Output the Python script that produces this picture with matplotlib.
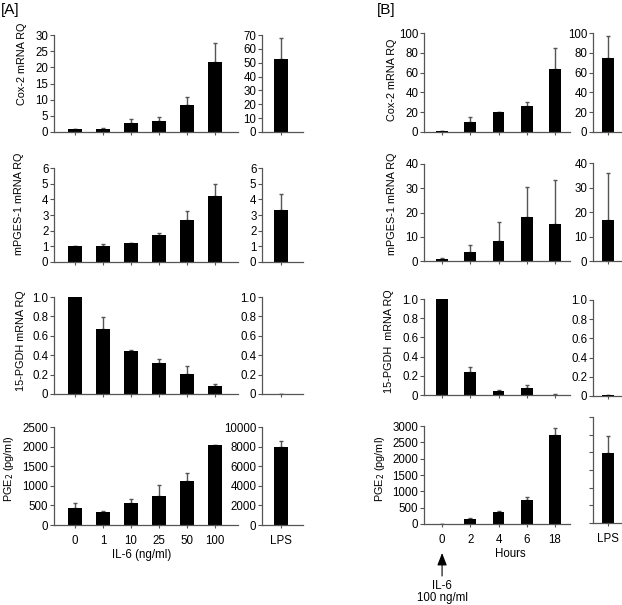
import numpy as np
import matplotlib
matplotlib.use('Agg')
from matplotlib import pyplot as plt

plt.rcParams['font.family'] = ['Liberation Sans', 'DejaVu Sans']
plt.rcParams['font.size'] = 8.3

# [A] IL-6 dose response
dose_labels = ['0', '1', '10', '25', '50', '100']
a_cox2 = [1.0, 1.0, 2.9, 3.4, 8.3, 21.6]
a_cox2_sd = [0.05, 0.2, 1.2, 1.1, 2.4, 6.0]
a_mpges = [1.0, 1.04, 1.2, 1.73, 2.68, 4.19]
a_mpges_sd = [0.0, 0.14, 0.03, 0.1, 0.6, 0.8]
a_pgdh = [1.0, 0.665, 0.444, 0.317, 0.205, 0.085]
a_pgdh_sd = [0.0, 0.13, 0.006, 0.04, 0.082, 0.014]
a_pge2 = [443, 332, 562, 732, 1123, 2034]
a_pge2_sd = [127, 25, 102, 281, 205, 17]
a_lps = [52.7, 3.32, 0.005, 8000]
a_lps_sd = [15.1, 0.99, 0.0, 612]

# [B] IL-6 100 ng/ml time course
hour_labels = ['0', '2', '4', '6', '18']
b_cox2 = [1.0, 9.8, 20.3, 26.1, 63.4]
b_cox2_sd = [0.2, 5.8, 0.3, 3.7, 21.3]
b_mpges = [1.0, 3.7, 8.1, 18.0, 15.3]
b_mpges_sd = [0.1, 2.8, 8.0, 12.4, 18.0]
b_pgdh = [1.0, 0.239, 0.038, 0.069, 0.004]
b_pgdh_sd = [0.0, 0.051, 0.014, 0.031, 0.002]
b_pge2 = [8, 164, 369, 727, 2725]
b_pge2_sd = [0, 10, 20, 113, 225]
b_lps = [74.9, 16.8, 0.008, 1980]
b_lps_sd = [22.0, 19.1, 0.002, 480]

a_ylabels = ['Cox-2 mRNA RQ', 'mPGES-1 mRNA RQ', '15-PGDH mRNA RQ', 'PGE$_2$ (pg/ml)']
b_ylabels = ['Cox-2 mRNA RQ', 'mPGES-1 mRNA RQ', '15-PGDH  mRNA RQ', 'PGE$_2$ (pg/ml)']

W, H = 622, 605
fig = plt.figure(figsize=(W/100, H/100), dpi=100)
grey = '#555555'

def px_axes(x0, x1, y0, y1):
    return fig.add_axes([x0/W, 1-y1/H, (x1-x0)/W, (y1-y0)/H])

def bars(ax, vals, sd, width, xlim, ylim, yticks, ylabs=True, xlabels=None):
    x = np.arange(len(vals))
    ax.bar(x, vals, width=width, color='black', zorder=2)
    ax.errorbar(x, vals, yerr=[np.zeros(len(vals)), sd], fmt='none',
                ecolor=grey, elinewidth=1, capsize=1.6, capthick=1, zorder=1)
    ax.set_xlim(xlim)
    ax.set_ylim(ylim)
    ax.set_yticks(yticks)
    if ylabs:
        ax.set_yticklabels(['%g' % t for t in yticks])
    else:
        ax.set_yticklabels([])
    ax.set_xticks(x)
    if xlabels is None:
        ax.set_xticklabels([])
    else:
        ax.set_xticklabels(xlabels)
    for s in ['top', 'right']:
        ax.spines[s].set_visible(False)
    for s in ['left', 'bottom']:
        ax.spines[s].set_color(grey)
        ax.spines[s].set_linewidth(0.9)
    ax.tick_params(axis='y', length=3, width=0.8, color=grey, pad=1)
    ax.tick_params(axis='x', length=2.5, width=0.8, color=grey, pad=5)

pgdh_ticks = [0, 0.2, 0.4, 0.6, 0.8, 1.0]

def pgdh_labels(ax):
    ax.set_yticklabels(['0', '0.2', '0.4', '0.6', '0.8', '1.0'])

# panel A
rows_a = [(35, 132), (168, 262), (297, 394), (427, 525)]
a_data = [(a_cox2, a_cox2_sd, 30, np.arange(0, 31, 5), 70, np.arange(0, 71, 10)),
          (a_mpges, a_mpges_sd, 6, np.arange(0, 7, 1), 6, np.arange(0, 7, 1)),
          (a_pgdh, a_pgdh_sd, 1.0, pgdh_ticks, 1.0, pgdh_ticks),
          (a_pge2, a_pge2_sd, 2500, np.arange(0, 2501, 500), 10000, np.arange(0, 10001, 2000))]
a_label_x = [22, 19, 21, 9]
a_label_y = [64, 204, 341, 469]
for i in range(4):
    y0, y1 = rows_a[i]
    vals, sd, top, ticks, ltop, lticks = a_data[i]
    ax = px_axes(54, 238, y0, y1)
    last = i == 3
    bars(ax, vals, sd, 0.5, (-0.75, 5.82), (0, top), ticks,
         xlabels=dose_labels if last else None)
    ax2 = px_axes(262, 303, y0, y1)
    bars(ax2, [a_lps[i]], [a_lps_sd[i]], 0.5, (-0.68, 0.78), (0, ltop), lticks,
         xlabels=['LPS'] if last else None)
    if i == 2:
        pgdh_labels(ax)
        pgdh_labels(ax2)
    fig.text(a_label_x[i]/W, 1-a_label_y[i]/H, a_ylabels[i], rotation=90,
             ha='center', va='center', fontsize=7.8)

fig.text(142/W, 1-555/H, 'IL-6 (ng/ml)', ha='center', va='center')

# panel B
rows_b = [(33, 132), (164, 261), (299, 395), (426, 524)]
rows_b_lps = [(33, 132), (163, 261), (300, 396), (417, 523)]
b_data = [(b_cox2, b_cox2_sd, 100, np.arange(0, 101, 20), 100, np.arange(0, 101, 20)),
          (b_mpges, b_mpges_sd, 40, np.arange(0, 41, 10), 40, np.arange(0, 41, 10)),
          (b_pgdh, b_pgdh_sd, 1.0, pgdh_ticks, 1.0, pgdh_ticks),
          (b_pge2, b_pge2_sd, 3000, np.arange(0, 3001, 500), 3000, np.arange(0, 3001, 500))]
b_label_x = [392, 392, 389, 380]
b_label_y = [80, 204, 341, 469]
for i in range(4):
    y0, y1 = rows_b[i]
    vals, sd, top, ticks, ltop, lticks = b_data[i]
    ax = px_axes(424, 570, y0, y1)
    last = i == 3
    bars(ax, vals, sd, 0.42, (-0.64, 4.53), (0, top), ticks,
         xlabels=hour_labels if last else None)
    ly0, ly1 = rows_b_lps[i]
    ax2 = px_axes(593, 634, ly0, ly1)
    bars(ax2, [b_lps[i]], [b_lps_sd[i]], 0.42, (-0.53, 0.92), (0, ltop), lticks,
         ylabs=not last, xlabels=['LPS'] if last else None)
    if i == 2:
        pgdh_labels(ax)
        pgdh_labels(ax2)
    if last:
        bax = ax
    fig.text(b_label_x[i]/W, 1-b_label_y[i]/H, b_ylabels[i], rotation=90,
             ha='center', va='center', fontsize=7.8)

fig.text(510/W, 1-554/H, 'Hours', ha='center', va='center')

# IL-6 arrow under time 0
bax.annotate('', xy=(0, H-553), xytext=(0, H-576), xycoords=('data', 'figure pixels'),
             textcoords=('data', 'figure pixels'), annotation_clip=False,
             arrowprops=dict(arrowstyle='-|>,head_length=0.9,head_width=0.35',
                             color='black', lw=0.8, shrinkA=0, shrinkB=0))
bax.annotate('IL-6\n100 ng/ml', xy=(0, H-592), xycoords=('data', 'figure pixels'),
             ha='center', va='center', annotation_clip=False, linespacing=1.1)

fig.text(1/W, 1-10/H, '[A]', fontsize=11, ha='left', va='center')
fig.text(377/W, 1-10/H, '[B]', fontsize=11, ha='left', va='center')

fig.savefig('out.png', dpi=100)
